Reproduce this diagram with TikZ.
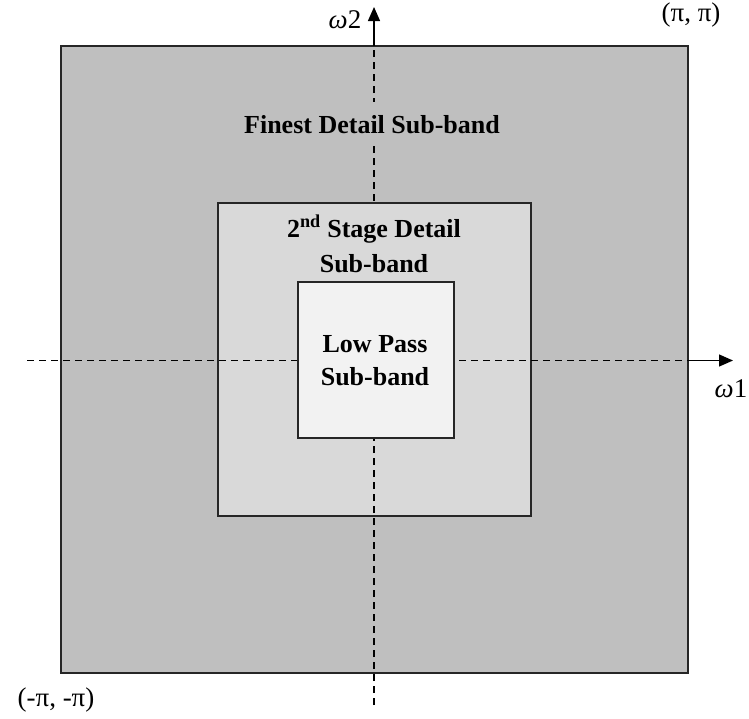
\documentclass[tikz,border=0pt]{standalone}
\usepackage{fontspec}
\setmainfont{Liberation Serif}
\usetikzlibrary{arrows.meta}
\definecolor{outergray}{HTML}{BFBFBF}
\definecolor{midgray}{HTML}{D9D9D9}
\definecolor{innergray}{HTML}{F2F2F2}
\definecolor{edgegray}{HTML}{262626}
\tikzset{
  band/.style={draw=edgegray, line width=1.6pt, inner sep=0pt, outer sep=0pt},
  axisdash/.style={line width=1.3pt, dash pattern=on 7pt off 5pt},
  axisarrow/.style={line width=1.3pt, -{Triangle[length=14pt,width=12pt]}},
  bandtext/.style={font=\bfseries\fontsize{26}{32}\selectfont, anchor=base, inner xsep=4pt},
  axislabel/.style={font=\fontsize{27}{30}\selectfont, anchor=base, inner sep=0pt}
}
\begin{document}
\begin{tikzpicture}[x=1pt,y=-1pt]
\useasboundingbox (0,0) rectangle (749,718);
% bands
\node[band, fill=outergray, minimum width=627pt, minimum height=627pt] (outer) at (374.5,359.5) {};
\node[band, fill=midgray, minimum width=313pt, minimum height=313pt] (middle) at (374.5,359.5) {};
% axes
\coordinate (xl) at (27,360.5);
\coordinate (xr) at (733,360.5);
\coordinate (yb) at (374,705);
\coordinate (yt) at (374,7);
\draw[axisdash] (xl) -- (xl -| outer.east);
\draw[axisarrow] (xl -| outer.east) -- (xr);
\draw[axisdash] (yb) -- (yb |- outer.north);
\draw[axisarrow] (yb |- outer.north) -- (yt);
% band texts
\node[bandtext, fill=outergray, inner ysep=13pt] (finest) at (372,133) {Finest Detail Sub-band};
\node[bandtext, fill=midgray, inner ysep=10pt] (stageA) at (374,237) {2\textsuperscript{nd} Stage Detail};
\node[bandtext, fill=midgray, inner ysep=10pt] (stageB) at (374,272) {Sub-band};
% inner band
\node[band, fill=innergray, minimum width=156pt, minimum height=156pt] (inner) at (376,360) {};
\node[bandtext] (lowA) at (375,352) {Low Pass};
\node[bandtext] (lowB) at (375,385) {Sub-band};
% labels
\node[axislabel] (w2) at (345,28) {{\itshape ω}2};
\node[axislabel] (w1) at (731,397) {{\itshape ω}1};
\node[axislabel] (pp) at (691,21.5) {(π, π)};
\node[axislabel] (mm) at (56,706.5) {(-π, -π)};
\end{tikzpicture}
\end{document}
